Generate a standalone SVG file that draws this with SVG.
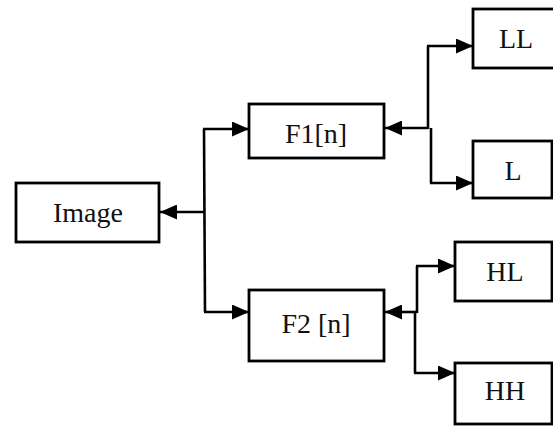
<svg xmlns="http://www.w3.org/2000/svg" width="553" height="426" viewBox="0 0 553 426">
  <style>
    .box { fill: #fff; stroke: #000; stroke-width: 2.8; }
    .lbl { font-family: "Liberation Serif", "Times New Roman", serif; font-size: 28px; fill: #111; text-anchor: middle; }
    .wire { fill: none; stroke: #000; stroke-width: 2.6; }
    .arr { fill: none; stroke: #000; stroke-width: 2.6; marker-end: url(#ah); }
  </style>
  <defs>
    <marker id="ah" markerUnits="userSpaceOnUse" markerWidth="17" markerHeight="15" refX="17" refY="7.5" orient="auto">
      <path d="M0,0 L17,7.5 L0,15 z" fill="#000"/>
    </marker>
  </defs>
  <rect width="553" height="426" fill="#fff"/>

  <g id="connectors">
    <path class="arr" d="M204,212 L160,212"/>
    <path class="wire" d="M204,129 L205,312"/>
    <path class="arr" d="M203,129 L249,129"/>
    <path class="arr" d="M204,312 L249,312"/>

    <path class="arr" d="M428,128 L385,128"/>
    <path class="wire" d="M428,46 L428,129"/>
    <path class="wire" d="M431,128 L431,183"/>
    <path class="arr" d="M427,46 L473,46"/>
    <path class="arr" d="M430,183 L473,183"/>

    <path class="arr" d="M417,312 L385,312"/>
    <path class="wire" d="M417,266 L417,313"/>
    <path class="wire" d="M415,312 L415,373"/>
    <path class="arr" d="M416,266 L455,266"/>
    <path class="arr" d="M414,373 L455,373"/>
  </g>

  <g id="image">
    <rect class="box" x="16" y="183" width="143" height="59"/>
    <text class="lbl" x="88" y="222">Image</text>
  </g>
  <g id="f1">
    <rect class="box" x="249" y="104" width="135" height="54"/>
    <text class="lbl" x="316" y="143">F1[n]</text>
  </g>
  <g id="f2">
    <rect class="box" x="249" y="290" width="135" height="71"/>
    <text class="lbl" x="316" y="333">F2 [n]</text>
  </g>
  <g id="ll">
    <rect class="box" x="473" y="9" width="90" height="59"/>
    <text class="lbl" x="516" y="48">LL</text>
  </g>
  <g id="l">
    <rect class="box" x="473" y="141" width="79" height="57"/>
    <text class="lbl" x="513" y="180">L</text>
  </g>
  <g id="hl">
    <rect class="box" x="455" y="242" width="97" height="59"/>
    <text class="lbl" x="505" y="281">HL</text>
  </g>
  <g id="hh">
    <rect class="box" x="455" y="363" width="97" height="61"/>
    <text class="lbl" x="505" y="400">HH</text>
  </g>
</svg>
